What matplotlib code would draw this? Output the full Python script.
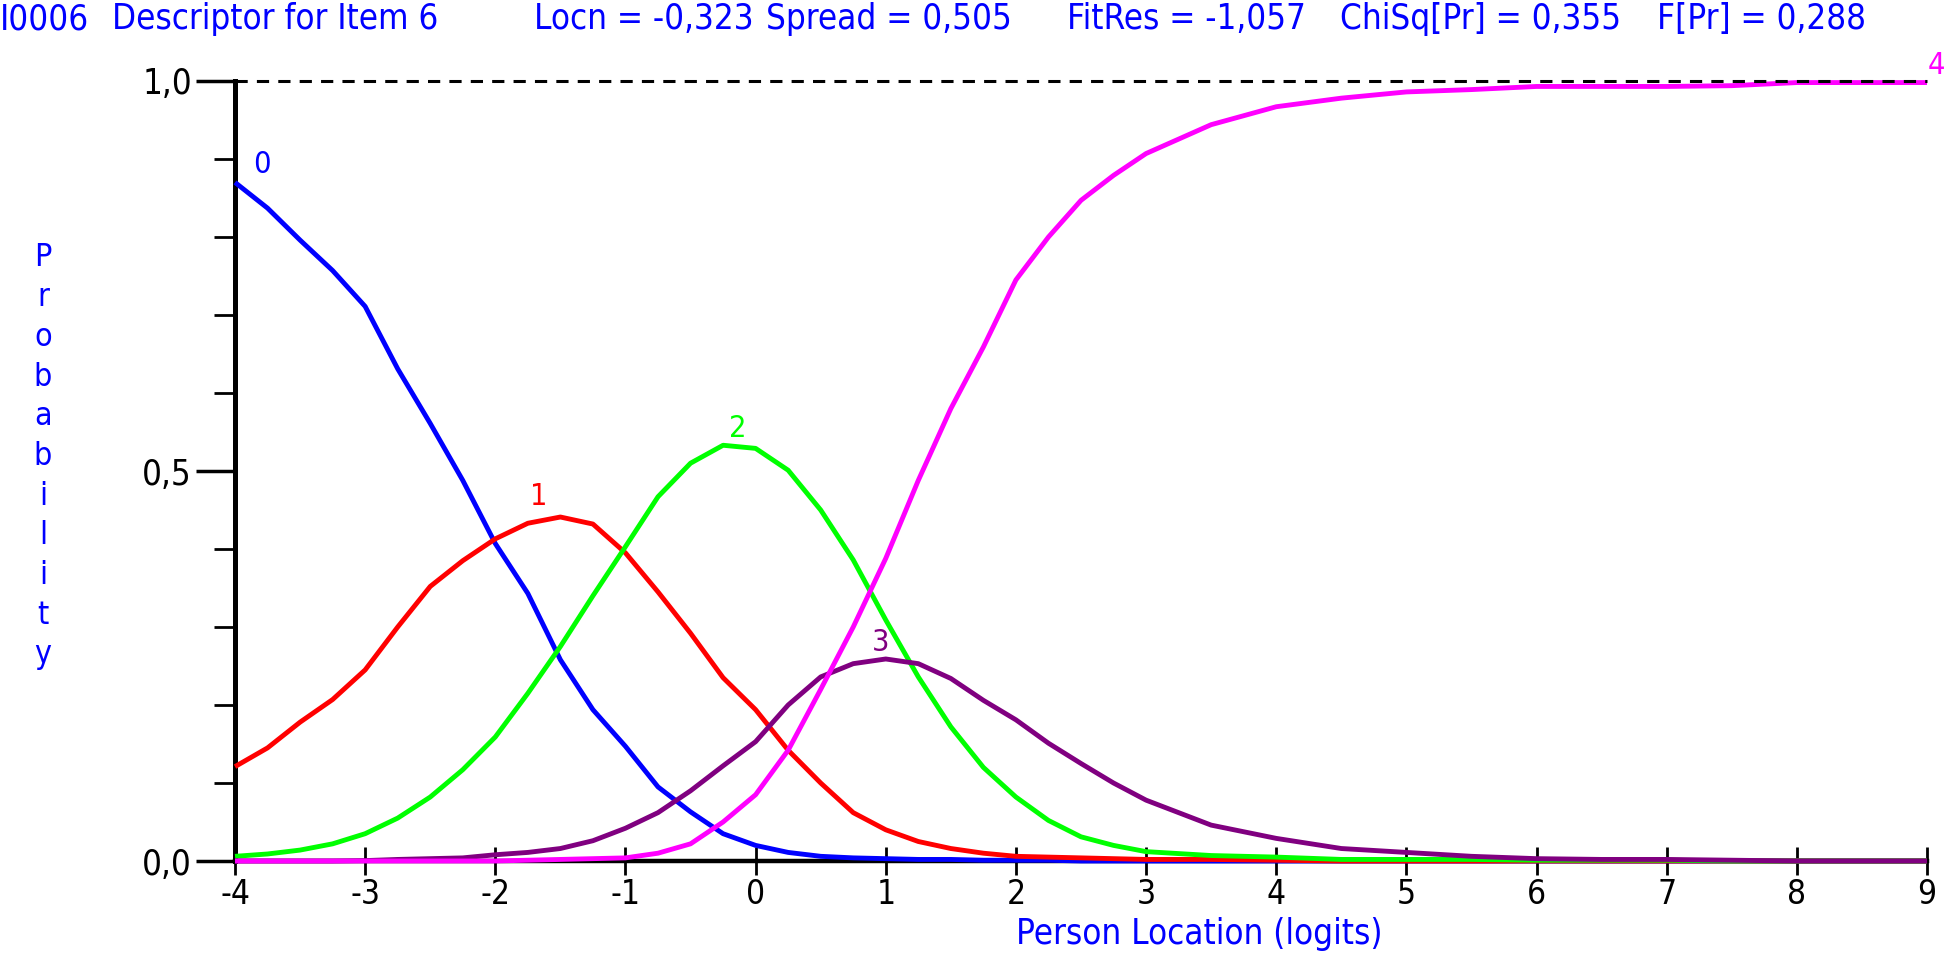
from matplotlib import pyplot as plt
import numpy as np

## logit grid the curves were read on
x_vals = [-4, -3.75, -3.5, -3.25, -3, -2.75, -2.5, -2.25, -2, -1.75, -1.5, -1.25,
          -1, -0.75, -0.5, -0.25, 0, 0.25, 0.5, 0.75, 1, 1.25, 1.5, 1.75, 2,
          2.25, 2.5, 2.75, 3, 3.5, 4, 4.5, 5, 5.5, 6, 6.5, 7, 7.5, 8, 8.5, 9]

p_cat0 = [0.870, 0.837, 0.796, 0.757, 0.711, 0.631, 0.561, 0.488, 0.407, 0.343, 0.258, 0.194,
          0.147, 0.095, 0.063, 0.035, 0.020, 0.011, 0.006, 0.004, 0.003, 0.002, 0.002, 0.001, 0.001,
          0.001, 0, 0, 0, 0, 0, 0, 0, 0, 0, 0, 0, 0, 0, 0, 0]
p_cat1 = [0.121, 0.145, 0.178, 0.207, 0.245, 0.300, 0.352, 0.385, 0.413, 0.433, 0.441, 0.432,
          0.395, 0.345, 0.292, 0.235, 0.194, 0.142, 0.100, 0.062, 0.040, 0.025, 0.016, 0.010, 0.006,
          0.005, 0.004, 0.003, 0.002, 0.002, 0.001, 0, 0, 0, 0, 0, 0, 0, 0, 0, 0]
p_cat2 = [0.006, 0.009, 0.014, 0.022, 0.035, 0.055, 0.082, 0.117, 0.159, 0.215, 0.275, 0.340,
          0.403, 0.467, 0.510, 0.533, 0.529, 0.501, 0.450, 0.386, 0.309, 0.236, 0.172, 0.120, 0.082,
          0.052, 0.031, 0.020, 0.012, 0.007, 0.005, 0.002, 0.002, 0.002, 0.001, 0.001, 0.001, 0, 0, 0, 0]
p_cat3 = [0, 0, 0, 0, 0.0005, 0.002, 0.003, 0.004, 0.008, 0.011, 0.016, 0.026,
          0.042, 0.062, 0.090, 0.122, 0.153, 0.200, 0.236, 0.253, 0.259, 0.253, 0.234, 0.206, 0.181,
          0.151, 0.125, 0.100, 0.078, 0.046, 0.029, 0.016, 0.011, 0.006, 0.003, 0.002, 0.002, 0.001, 0, 0, 0]
p_cat4 = [0, 0, 0, 0, 0, 0, 0, 0, 0, 0.001, 0.002, 0.003,
          0.004, 0.010, 0.022, 0.050, 0.085, 0.142, 0.220, 0.300, 0.388, 0.488, 0.580, 0.659, 0.745,
          0.800, 0.847, 0.879, 0.907, 0.944, 0.967, 0.978, 0.986, 0.989, 0.993, 0.993, 0.993, 0.994, 0.998, 0.998, 0.998]

categories = ["0", "1", "2", "3", "4"]
colors = ["#0000ff", "#ff0000", "#00ff00", "#800080", "#ff00ff"]
label_pos = [(-3.79, 0.893), (-1.67, 0.467), (-0.14, 0.555), (0.96, 0.28), (9.07, 1.02)]

title_parts = ["I0006", "Descriptor for Item 6", "Locn = -0,323", "Spread = 0,505",
               "FitRes = -1,057", "ChiSq[Pr] = 0,355", "F[Pr] = 0,288"]
title_x = [0, 112, 534, 766, 1067, 1340, 1657]  ## pixel offsets along the top line

x_ticks = list(range(-4, 10))
y_major = [0.0, 0.5, 1.0]
y_major_labels = ["0,0", "0,5", "1,0"]

FONT = ['DejaVu Sans']
STRETCH = 'condensed'
BLUE = "#0000ff"

W, H = 1946, 971
fig = plt.figure(figsize=(W / 100, H / 100), dpi=100)
ax = fig.add_axes([235 / W, 1 - 861 / H, (1927 - 235) / W, (861 - 81) / H])

##############################
## curves
##############################
series = [p_cat0, p_cat1, p_cat2, p_cat3, p_cat4]
for i, ys in enumerate(series):
    ax.plot(x_vals, ys, color=colors[i], lw=3.5, clip_on=False, zorder=3 + i * 0.1,
            solid_joinstyle='round', solid_capstyle='butt')
    lx, ly = label_pos[i]
    ax.text(lx, ly, categories[i], color=colors[i], fontsize=22,
            family=FONT, fontstretch=STRETCH, ha='center', va='center', clip_on=False)

## dashed line at 1.0
ax.plot([-4, 9], [1, 1], color='black', lw=2.2, ls=(0, (4, 3)), clip_on=False, zorder=5)

##############################
## axes
##############################
ax.set_xlim(-4, 9)
ax.set_ylim(0, 1)
for s in ['top', 'right']:
    ax.spines[s].set_visible(False)
ax.spines['left'].set_linewidth(3.6)
ax.spines['bottom'].set_linewidth(3.2)
ax.spines['left'].set_zorder(2)
ax.spines['bottom'].set_zorder(2)

ax.set_xticks(x_ticks)
ax.set_xticklabels([str(t) for t in x_ticks], family=FONT, fontstretch=STRETCH, fontsize=24)
ax.tick_params(axis='x', direction='inout', length=20, width=2, pad=2)

ax.set_yticks(y_major)
ax.set_yticklabels(y_major_labels, family=FONT, fontstretch=STRETCH, fontsize=25)
ax.set_yticks(np.arange(0.1, 1.0, 0.1), minor=True)
ax.tick_params(axis='y', which='major', direction='out', length=28, width=2.5, pad=3)
ax.tick_params(axis='y', which='minor', direction='out', length=15, width=2)

ax.set_xlabel("Person Location (logits)", color=BLUE, family=FONT, fontstretch=STRETCH,
              fontsize=25, va='center')
ax.xaxis.set_label_coords(0.57, -0.094)

## stacked y label
ylab = "Probability"
y_top, y_bot = 1 - 258 / H, 1 - 655 / H
for k, ch in enumerate(ylab):
    yy = y_top + (y_bot - y_top) * k / (len(ylab) - 1)
    fig.text(43 / W, yy, ch, color=BLUE, family=FONT, fontstretch=STRETCH, fontsize=23,
             ha='center', va='center')

## top info line
for part, px in zip(title_parts, title_x):
    fig.text(px / W, 1 - 19 / H, part, color=BLUE, family=FONT, fontstretch=STRETCH,
             fontsize=25, ha='left', va='center')

fig.savefig("out.png", dpi=100)
